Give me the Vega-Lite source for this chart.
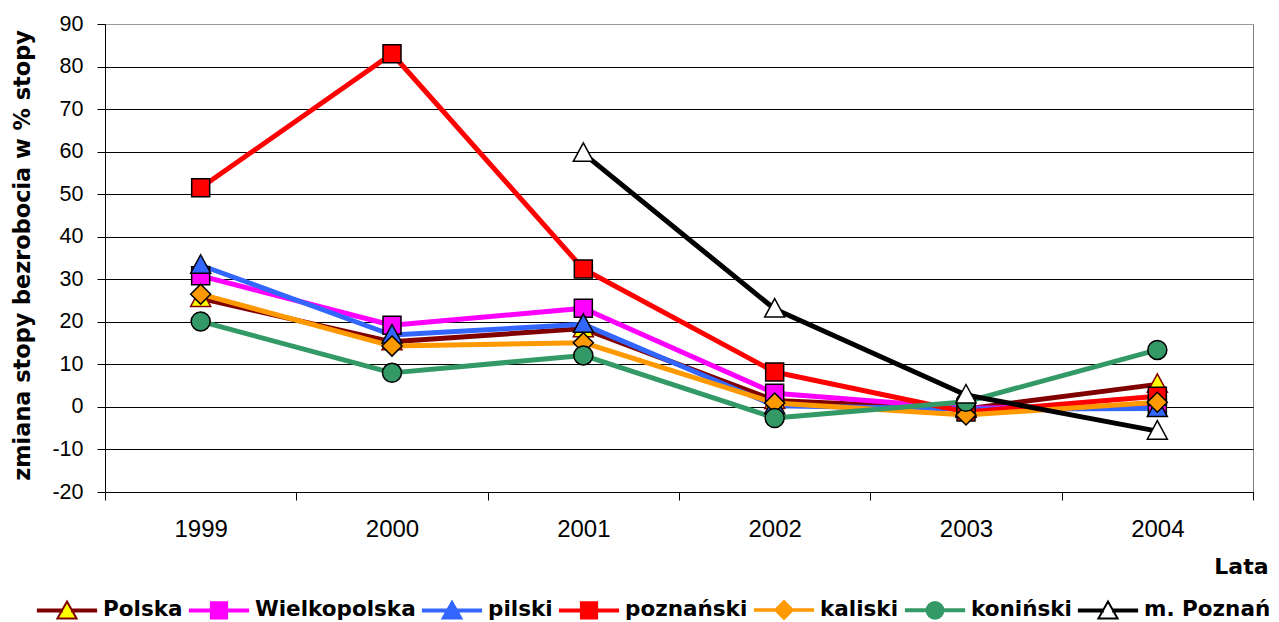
{
  "$schema": "https://vega.github.io/schema/vega-lite/v6.json",
  "width": 1148,
  "height": 468,
  "autosize": {"type": "none"},
  "padding": {"left": 105, "top": 24, "right": 26, "bottom": 130},
  "background": "white",
  "config": {
    "view": {"stroke": "#808080", "strokeWidth": 1}
  },
  "data": {
    "values": [
      {"series": "Polska", "year": 1999, "value": 25.5},
      {"series": "Polska", "year": 2000, "value": 15.3},
      {"series": "Polska", "year": 2001, "value": 18.4},
      {"series": "Polska", "year": 2002, "value": 1.5},
      {"series": "Polska", "year": 2003, "value": -0.5},
      {"series": "Polska", "year": 2004, "value": 5.3},
      {"series": "Wielkopolska", "year": 1999, "value": 30.8},
      {"series": "Wielkopolska", "year": 2000, "value": 19.2},
      {"series": "Wielkopolska", "year": 2001, "value": 23.2},
      {"series": "Wielkopolska", "year": 2002, "value": 3.2},
      {"series": "Wielkopolska", "year": 2003, "value": -0.3},
      {"series": "Wielkopolska", "year": 2004, "value": 0.3},
      {"series": "pilski", "year": 1999, "value": 33.3},
      {"series": "pilski", "year": 2000, "value": 16.9},
      {"series": "pilski", "year": 2001, "value": 19.4},
      {"series": "pilski", "year": 2002, "value": 0.3},
      {"series": "pilski", "year": 2003, "value": -0.5},
      {"series": "pilski", "year": 2004, "value": -0.4},
      {"series": "poznański", "year": 1999, "value": 51.5},
      {"series": "poznański", "year": 2000, "value": 83.0},
      {"series": "poznański", "year": 2001, "value": 32.4},
      {"series": "poznański", "year": 2002, "value": 8.2},
      {"series": "poznański", "year": 2003, "value": -1.2},
      {"series": "poznański", "year": 2004, "value": 2.5},
      {"series": "kaliski", "year": 1999, "value": 26.5},
      {"series": "kaliski", "year": 2000, "value": 14.3},
      {"series": "kaliski", "year": 2001, "value": 15.1},
      {"series": "kaliski", "year": 2002, "value": 0.9},
      {"series": "kaliski", "year": 2003, "value": -1.9},
      {"series": "kaliski", "year": 2004, "value": 1.1},
      {"series": "koniński", "year": 1999, "value": 20.1},
      {"series": "koniński", "year": 2000, "value": 8.0},
      {"series": "koniński", "year": 2001, "value": 12.1},
      {"series": "koniński", "year": 2002, "value": -2.6},
      {"series": "koniński", "year": 2003, "value": 1.2},
      {"series": "koniński", "year": 2004, "value": 13.4},
      {"series": "m. Poznań", "year": 2001, "value": 59.6},
      {"series": "m. Poznań", "year": 2002, "value": 23.0},
      {"series": "m. Poznań", "year": 2003, "value": 2.8},
      {"series": "m. Poznań", "year": 2004, "value": -5.7}
    ]
  },
  "resolve": {"scale": {"shape": "independent", "fill": "independent", "stroke": "independent"}},
  "layer": [
    {
      "mark": {"type": "line", "strokeJoin": "round", "strokeCap": "round"},
      "encoding": {
        "x": {
          "field": "year", "type": "ordinal", "bandPosition": 0.5,
          "scale": {"type": "band", "paddingInner": 0, "paddingOuter": 0},
          "axis": {
            "title": "Lata", "tickBand": "extent", "ticks": true, "tickSize": 8, "tickColor": "#000",
            "domainColor": "#000", "domainWidth": 1, "grid": false, "labelAngle": 0,
            "labelFont": "Liberation Sans", "labelFontSize": 24, "labelColor": "#000", "labelPadding": 17,
            "titleFont": "DejaVu Sans", "titleFontWeight": "bold", "titleFontSize": 22, "titleColor": "#000",
            "titleAnchor": "end", "titleAlign": "right", "titleX": 1163, "titleY": 81, "titleBaseline": "alphabetic"
          }
        },
        "y": {
          "field": "value", "type": "quantitative",
          "scale": {"domain": [-20, 90], "nice": false, "zero": false},
          "axis": {
            "values": [-20, -10, 0, 10, 20, 30, 40, 50, 60, 70, 80, 90],
            "labelExpr": "'' + datum.value",
            "grid": true,
            "gridColor": {"condition": {"test": "datum.value === 90", "value": "#999999"}, "value": "#000000"},
            "gridWidth": 1, "domainColor": "#000", "tickColor": "#000", "tickSize": 8,
            "labelFont": "Liberation Sans", "labelFontSize": 21.5, "labelColor": "#000", "labelPadding": 14,
            "title": "zmiana stopy bezrobocia w % stopy",
            "titleFont": "DejaVu Sans", "titleFontWeight": "bold", "titleFontSize": 22.4, "titleColor": "#000",
            "titleAngle": -90, "titleX": -83, "titleY": 231, "titleAlign": "center", "titleBaseline": "middle"
          }
        },
        "color": {
          "field": "series", "type": "nominal",
          "scale": {
            "domain": ["Polska", "Wielkopolska", "pilski", "poznański", "kaliski", "koniński", "m. Poznań"],
            "range": ["#800000", "#FF00FF", "#3366FF", "#FF0000", "#FF9900", "#339966", "#000000"]
          },
          "legend": null
        },
        "strokeWidth": {
          "field": "series", "type": "ordinal",
          "scale": {
            "domain": ["Polska", "Wielkopolska", "pilski", "poznański", "kaliski", "koniński", "m. Poznań"],
            "range": [5, 5, 5, 5, 3, 5, 5]
          },
          "legend": null
        }
      }
    },
    {
      "mark": {"type": "point", "filled": true, "size": 400, "strokeWidth": 1.5, "opacity": 1},
      "encoding": {
        "x": {"field": "year", "type": "ordinal", "bandPosition": 0.5},
        "y": {"field": "value", "type": "quantitative"},
        "shape": {
          "field": "series", "type": "nominal",
          "scale": {
            "domain": ["Polska", "Wielkopolska", "pilski", "poznański", "kaliski", "koniński", "m. Poznań"],
            "range": [
              "M0,-1.05L1,0.8L-1,0.8Z",
              "M-0.9,-0.9L0.9,-0.9L0.9,0.9L-0.9,0.9Z",
              "M0,-1.05L1,0.8L-1,0.8Z",
              "M-0.9,-0.9L0.9,-0.9L0.9,0.9L-0.9,0.9Z",
              "M0,-1L1,0L0,1L-1,0Z",
              "M-0.95,0A0.95,0.95,0,1,0,0.95,0A0.95,0.95,0,1,0,-0.95,0Z",
              "M0,-1.05L1,0.8L-1,0.8Z"
            ]
          },
          "legend": null
        },
        "fill": {
          "field": "series", "type": "nominal",
          "scale": {
            "domain": ["Polska", "Wielkopolska", "pilski", "poznański", "kaliski", "koniński", "m. Poznań"],
            "range": ["#FFFF00", "#FF00FF", "#3366FF", "#FF0000", "#FF9900", "#339966", "#FFFFFF"]
          },
          "legend": null
        },
        "stroke": {
          "field": "series", "type": "nominal",
          "scale": {
            "domain": ["Polska", "Wielkopolska", "pilski", "poznański", "kaliski", "koniński", "m. Poznań"],
            "range": ["#800000", "#000000", "#000000", "#000000", "#000000", "#000000", "#000000"]
          },
          "legend": null
        }
      }
    },
    {
      "mark": {"type": "point", "filled": true, "size": 3600, "strokeWidth": 2, "opacity": 0},
      "encoding": {
        "x": {"field": "year", "type": "ordinal", "bandPosition": 0.5},
        "y": {"field": "value", "type": "quantitative"},
        "shape": {
          "field": "series", "type": "nominal",
          "scale": {
            "domain": ["Polska", "Wielkopolska", "pilski", "poznański", "kaliski", "koniński", "m. Poznań"],
            "range": [
              "M-0.97,-0.033L-0.17,-0.033L-0.17,0.033L-0.97,0.033ZM0.17,-0.033L0.97,-0.033L0.97,0.033L0.17,0.033ZM0,-0.3L0.32,0.27L-0.32,0.27Z",
              "M-0.97,-0.033L-0.27,-0.033L-0.27,0.033L-0.97,0.033ZM0.27,-0.033L0.97,-0.033L0.97,0.033L0.27,0.033ZM-0.27,-0.27L0.27,-0.27L0.27,0.27L-0.27,0.27Z",
              "M-0.97,-0.033L-0.17,-0.033L-0.17,0.033L-0.97,0.033ZM0.17,-0.033L0.97,-0.033L0.97,0.033L0.17,0.033ZM0,-0.3L0.32,0.27L-0.32,0.27Z",
              "M-0.97,-0.033L-0.27,-0.033L-0.27,0.033L-0.97,0.033ZM0.27,-0.033L0.97,-0.033L0.97,0.033L0.27,0.033ZM-0.27,-0.27L0.27,-0.27L0.27,0.27L-0.27,0.27Z",
              "M-0.97,-0.025L-0.3,-0.025L-0.3,0.025L-0.97,0.025ZM0.3,-0.025L0.97,-0.025L0.97,0.025L0.3,0.025ZM0,-0.3L0.3,0L0,0.3L-0.3,0Z",
              "M-0.97,-0.033L-0.28,-0.033L-0.28,0.033L-0.97,0.033ZM0.28,-0.033L0.97,-0.033L0.97,0.033L0.28,0.033ZM-0.28,0A0.28,0.28,0,1,0,0.28,0A0.28,0.28,0,1,0,-0.28,0Z",
              "M-0.97,-0.033L-0.17,-0.033L-0.17,0.033L-0.97,0.033ZM0.17,-0.033L0.97,-0.033L0.97,0.033L0.17,0.033ZM0,-0.3L0.32,0.27L-0.32,0.27Z"
            ]
          },
          "legend": {
            "orient": "none", "legendX": -69, "legendY": 555, "direction": "horizontal", "columns": 7,
            "title": null, "padding": 0, "symbolSize": 3600, "symbolStrokeWidth": 2, "symbolOpacity": 1,
            "symbolFillColor": "#ffffff", "symbolStrokeColor": "#000000",
            "labelFont": "DejaVu Sans", "labelFontWeight": "bold", "labelFontSize": 21.5, "labelColor": "#000",
            "labelOffset": 5, "columnPadding": 2, "labelLimit": 400
          }
        },
        "fill": {
          "field": "series", "type": "nominal",
          "scale": {
            "domain": ["Polska", "Wielkopolska", "pilski", "poznański", "kaliski", "koniński", "m. Poznań"],
            "range": ["#FFFF00", "#FF00FF", "#3366FF", "#FF0000", "#FF9900", "#339966", "#FFFFFF"]
          },
          "legend": {
            "orient": "none", "legendX": -69, "legendY": 555, "direction": "horizontal", "columns": 7,
            "title": null, "padding": 0, "symbolSize": 3600, "symbolStrokeWidth": 2, "symbolOpacity": 1,
            "symbolFillColor": "#ffffff", "symbolStrokeColor": "#000000",
            "labelFont": "DejaVu Sans", "labelFontWeight": "bold", "labelFontSize": 21.5, "labelColor": "#000",
            "labelOffset": 5, "columnPadding": 2, "labelLimit": 400
          }
        },
        "stroke": {
          "field": "series", "type": "nominal",
          "scale": {
            "domain": ["Polska", "Wielkopolska", "pilski", "poznański", "kaliski", "koniński", "m. Poznań"],
            "range": ["#800000", "#FF00FF", "#3366FF", "#FF0000", "#FF9900", "#339966", "#000000"]
          },
          "legend": {
            "orient": "none", "legendX": -69, "legendY": 555, "direction": "horizontal", "columns": 7,
            "title": null, "padding": 0, "symbolSize": 3600, "symbolStrokeWidth": 2, "symbolOpacity": 1,
            "symbolFillColor": "#ffffff", "symbolStrokeColor": "#000000",
            "labelFont": "DejaVu Sans", "labelFontWeight": "bold", "labelFontSize": 21.5, "labelColor": "#000",
            "labelOffset": 5, "columnPadding": 2, "labelLimit": 400
          }
        }
      }
    }
  ]
}
